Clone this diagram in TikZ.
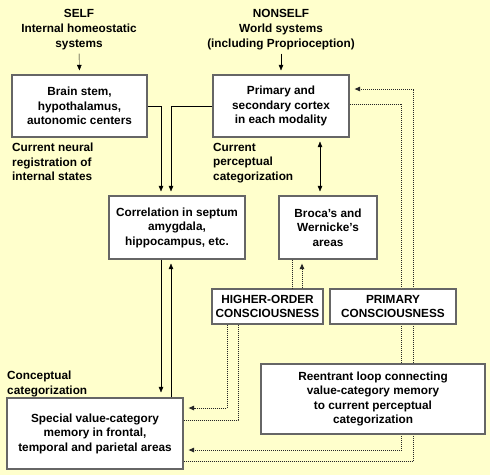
\documentclass[tikz,border=0pt]{standalone}
\usepackage{fontspec}
\setmainfont{Liberation Sans}
\usetikzlibrary{
    arrows.meta,
    positioning,
    calc,
    backgrounds
}
\definecolor{paper}{HTML}{FFFFCC}
\tikzset{
    % Colors
    box color/.style={draw=black!60},
    link color/.style={color=black!85},
    %
    % Arrows
    arrow tip/.tip={Triangle[length=5.5pt,width=4.5pt]},
    arr/.style={->,>={arrow tip},shorten >=4pt},
    darr/.style={<->,>={arrow tip},shorten >=4pt,shorten <=4pt},
    dotline/.style={link color,line width=1pt,dash pattern=on 1pt off 1pt},
    dotarr/.style={dotline,->,>={arrow tip},shorten >=5pt}
}
\tikzstyle{every node}=[font=\fontsize{11.8}{14.5}\selectfont\bfseries]

\begin{document}
\begin{tikzpicture}
        [
            x=1pt,y=-1pt,
            system node/.style={rectangle,box color,line width=1.2pt,fill=white,align=center,inner sep=0pt},
            side label/.style={align=left,inner sep=0pt,anchor=north west},
            head label/.style={align=center,inner sep=0pt}
        ]
        \useasboundingbox (0,0) rectangle (490,475);
        % boxes
        \node[system node,minimum width=135pt,minimum height=62pt] (stem) at (79.5,106) {Brain stem,\\hypothalamus,\\autonomic centers};
        \node[system node,minimum width=136pt,minimum height=62pt] (cortex) at (281,106) {Primary and\\secondary cortex\\in each modality};
        \node[system node,minimum width=136pt,minimum height=63pt] (septum) at (177,227.5) {Correlation in septum\\amygdala,\\hippocampus, etc.};
        \node[system node,minimum width=98pt,minimum height=63pt] (broca) at (328,227.5) {Broca's and\\Wernicke's\\areas};
        \node[system node,minimum width=111pt,minimum height=35pt] (higher) at (267.5,306.5) {HIGHER-ORDER\\CONSCIOUSNESS};
        \node[system node,minimum width=126pt,minimum height=35pt] (primcons) at (393,306.5) {PRIMARY\\CONSCIOUSNESS};
        \node[system node,minimum width=224pt,minimum height=70pt] (reentrant) at (373,399) {Reentrant loop connecting\\value-category memory\\to current perceptual\\categorization};
        \node[system node,minimum width=176pt,minimum height=71pt] (memory) at (95,433.5) {Special value-category\\memory in frontal,\\temporal and parietal areas};
        % labels
        \node[head label,font=\fontsize{11.8}{15}\selectfont\bfseries] (self) at (79,30) {SELF\\Internal homeostatic\\systems};
        \node[head label,font=\fontsize{11.8}{15}\selectfont\bfseries] (nonself) at (281,30) {NONSELF\\World systems\\(including Proprioception)};
        \node[side label] (neural) at (12,143) {Current neural\\registration of\\internal states};
        \node[side label] (percept) at (213,143) {Current\\perceptual\\categorization};
        \node[side label] (concept) at (7,371) {Conceptual\\categorization};
        % solid links
        \draw[arr,shorten <=3pt] (self.south) -- (stem.north);
        \draw[arr,shorten <=3pt] (nonself.south) -- (cortex.north);
        \draw[arr] (stem.east) -| ($(septum.north)+(-16,0)$);
        \draw[arr] (cortex.west) -| ($(septum.north)+(-6,0)$);
        \draw[arr,shorten >=5pt] ($(septum.south)+(-16,0)$) -- ($(memory.north)+(66,0)$);
        \draw[arr] ($(memory.north)+(76,0)$) -- ($(septum.south)+(-6,0)$);
        \draw[darr] ($(cortex.south)+(39,0)$) -- ($(broca.north)+(-8,0)$);
        % dotted links
        \draw[dotline] ($(broca.south)+(-36,0)$) -- ($(higher.north)+(24.5,0)$);
        \draw[dotarr,shorten >=4pt] ($(higher.north)+(34.5,0)$) -- ($(broca.south)+(-26,0)$);
        \draw[dotarr] ($(higher.south)+(-40.5,0)$) |- ($(memory.east)+(0,-25.5)$);
        \draw[dotline] ($(memory.east)+(0,-13.5)$) -| ($(higher.south)+(-29.5,0)$);
        \begin{scope}[on background layer]
            \fill[paper] (0,0) rectangle (490,475);
            \draw[dotarr] ($(cortex.east)+(0,-2)$) -- ++(52,0) |- ($(memory.east)+(0,16.5)$);
            \draw[dotarr] ($(memory.east)+(0,27.5)$) -- ++(230,0) |- ($(cortex.east)+(0,-17)$);
        \end{scope}
    \end{tikzpicture}
\end{document}
